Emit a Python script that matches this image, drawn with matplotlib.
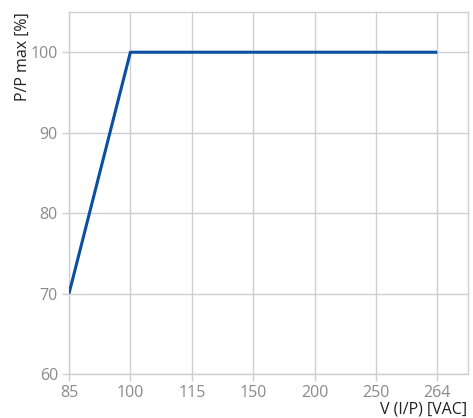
import matplotlib
matplotlib.use("Agg")
import matplotlib.pyplot as plt

# данные
categories = ['85', '100', '115', '150', '200', '250', '264']
line_idx = [0, 1, 6]
line_values = [70, 100, 100]
y_ticks = [60, 70, 80, 90, 100]

plt.rcParams['font.family'] = ['Open Sans', 'DejaVu Sans']

fig = plt.figure(figsize=(4.73, 4.18), dpi=100)
W, H = 473, 418
ax = fig.add_axes([69 / W, (H - 374) / H, (468 - 69) / W, (374 - 12) / H])

ax.plot(line_idx, line_values, color='#0b4ea2', linewidth=2.2, solid_capstyle='butt', zorder=3)

ax.set_xlim(0, 6.5)
ax.set_ylim(60, 105)
ax.set_xticks(range(len(categories)))
ax.set_xticklabels(categories)
ax.set_yticks(y_ticks)

ax.grid(True, color='#cfcfcf', linewidth=1.0)
ax.set_axisbelow(True)
for s in ax.spines.values():
    s.set_color('#cfcfcf')
    s.set_linewidth(1.0)

ax.tick_params(axis='both', colors='#cfcfcf', labelcolor='#8a8a8a',
               labelsize=11.5, length=5, width=1.0, pad=3)

# подписи осей
fig.text(23 / W, 1 - 57 / H, 'P/P max [%]', rotation=90, ha='center', va='center',
         fontsize=11.5, color='#222222')
fig.text(467 / W, 1 - 409 / H, 'V (I/P) [VAC]', ha='right', va='center',
         fontsize=11.5, color='#222222')

fig.savefig('out.png', dpi=100)
